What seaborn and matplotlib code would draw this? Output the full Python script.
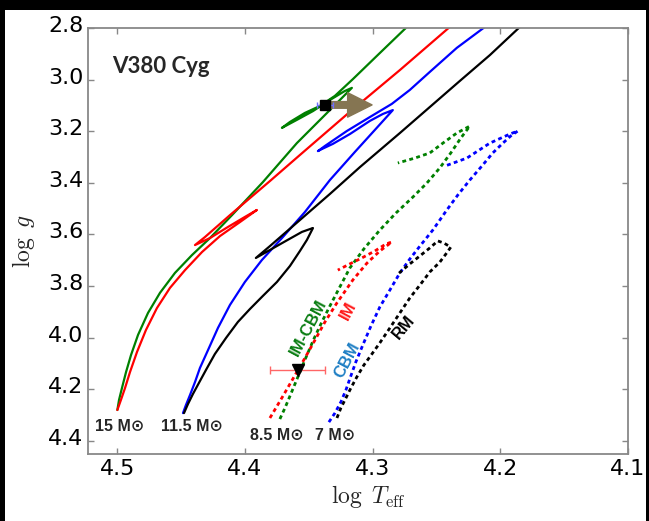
import matplotlib
matplotlib.use("Agg")
import matplotlib.pyplot as plt
import matplotlib.transforms as mtransforms
from matplotlib.patches import Rectangle, FancyArrowPatch
import seaborn as sns
import pandas as pd

# ---- evolutionary tracks: log Teff / log g --------------------------------
# 15 Msun, IM-CBM (solid green)
t15_imcbm = [4.500, 4.4987, 4.4964, 4.4932, 4.4893, 4.4838, 4.4760, 4.4666, 4.4549, 4.4416,
             4.4275, 4.4102, 4.3860, 4.3594, 4.3390, 4.3257, 4.3163,
             4.3218, 4.3335, 4.3468, 4.3594, 4.3711,
             4.3648, 4.3531, 4.3413, 4.3296, 4.3155, 4.2944, 4.2732, 4.2693]
g15_imcbm = [4.280, 4.241, 4.195, 4.133, 4.067, 3.989, 3.904, 3.826, 3.749, 3.680,
             3.614, 3.525, 3.397, 3.246, 3.145, 3.079, 3.032,
             3.044, 3.079, 3.122, 3.156, 3.187,
             3.164, 3.129, 3.102, 3.063, 2.998, 2.897, 2.796, 2.777]

# 15 Msun, IM (solid red)
t15_im = [4.500, 4.4972, 4.4940, 4.4901, 4.4846, 4.4776, 4.4690, 4.4588, 4.4470, 4.4337,
          4.4196, 4.4040, 4.3907,
          4.4001, 4.4134, 4.4275, 4.4392,
          4.4314, 4.4118, 4.3805, 4.3570, 4.3179, 4.2787, 4.2396, 4.2349]
g15_im = [4.280, 4.241, 4.195, 4.133, 4.055, 3.970, 3.885, 3.807, 3.738, 3.668,
          3.606, 3.552, 3.505,
          3.532, 3.571, 3.614, 3.641,
          3.610, 3.525, 3.393, 3.292, 3.125, 2.963, 2.796, 2.777]

# 11.5 Msun, CBM (solid blue)
t115_cbm = [4.4486, 4.4463, 4.4431, 4.4392, 4.4353, 4.4290, 4.4212, 4.4118, 4.4001, 4.3868,
            4.3711, 4.3531, 4.3335, 4.3139, 4.2983, 4.2842,
            4.2920, 4.3022, 4.3179, 4.3312, 4.3398, 4.3429,
            4.3374, 4.3202, 4.3022, 4.2850, 4.2709, 4.2552, 4.2341, 4.2121, 4.2082]
g115_cbm = [4.292, 4.261, 4.222, 4.172, 4.117, 4.048, 3.962, 3.873, 3.784, 3.699,
            3.614, 3.513, 3.389, 3.280, 3.195, 3.118,
            3.133, 3.160, 3.211, 3.249, 3.269, 3.277,
            3.257, 3.199, 3.145, 3.094, 3.040, 2.970, 2.877, 2.796, 2.781]

# 11.5 Msun, RM (solid black)
t115_rm = [4.4478, 4.4447, 4.4408, 4.4361, 4.4306, 4.4236, 4.4149, 4.4056, 4.3962, 4.3860,
           4.3750, 4.3648, 4.3570, 4.3515, 4.3476, 4.3468,
           4.3554, 4.3680, 4.3805, 4.3915,
           4.3805, 4.3570, 4.3335, 4.3100, 4.2787, 4.2552, 4.2317, 4.2082, 4.1847, 4.1808]
g115_rm = [4.292, 4.257, 4.218, 4.175, 4.125, 4.063, 4.001, 3.939, 3.889, 3.838,
           3.784, 3.722, 3.664, 3.621, 3.583, 3.575,
           3.590, 3.625, 3.660, 3.691,
           3.645, 3.544, 3.443, 3.339, 3.207, 3.106, 3.005, 2.905, 2.796, 2.781]

# 8.5 Msun, IM-CBM (dotted green)
t85_imcbm = [4.3727, 4.3687, 4.3648, 4.3586, 4.3531, 4.3461, 4.3398, 4.3335, 4.3257, 4.3179,
             4.3069, 4.2944, 4.2818, 4.2685, 4.2576, 4.2474, 4.2388, 4.2309, 4.2239,
             4.2341, 4.2450, 4.2552, 4.2670, 4.2803]
g85_imcbm = [4.315, 4.272, 4.226, 4.152, 4.086, 4.005, 3.939, 3.877, 3.803, 3.730,
             3.656, 3.583, 3.517, 3.455, 3.401, 3.342, 3.284, 3.226, 3.180,
             3.207, 3.246, 3.284, 3.304, 3.323]

# 8.5 Msun, IM (dotted red)
t85_im = [4.3805, 4.3758, 4.3703, 4.3648, 4.3594, 4.3531, 4.3461, 4.3374, 4.3280, 4.3155,
          4.3045, 4.2944, 4.2850,
          4.2897, 4.2983, 4.3085, 4.3179, 4.3273]
g85_im = [4.311, 4.272, 4.226, 4.179, 4.133, 4.079, 4.017, 3.939, 3.865, 3.776,
          3.711, 3.664, 3.629,
          3.637, 3.664, 3.691, 3.714, 3.738]

# 7 Msun, CBM (dotted blue)
t7_cbm = [4.3343, 4.3296, 4.3249, 4.3210, 4.3171, 4.3132, 4.3077, 4.3014, 4.2944, 4.2865,
          4.2787, 4.2709, 4.2630, 4.2529, 4.2419, 4.2333, 4.2239, 4.2145, 4.2059, 4.1980,
          4.1918, 4.1863,
          4.1926, 4.2082, 4.2262, 4.2435]
g7_cbm = [4.327, 4.292, 4.249, 4.203, 4.148, 4.094, 4.028, 3.955, 3.881, 3.815,
          3.749, 3.695, 3.645, 3.583, 3.505, 3.447, 3.389, 3.335, 3.284, 3.246,
          3.218, 3.199,
          3.211, 3.246, 3.304, 3.335]

# 7 Msun, RM (dotted black)
t7_rm = [4.3280, 4.3249, 4.3210, 4.3171, 4.3124, 4.3069, 4.3006, 4.2944, 4.2865, 4.2787,
         4.2709, 4.2630, 4.2552, 4.2474, 4.2427, 4.2388,
         4.2443, 4.2490, 4.2552, 4.2630, 4.2709, 4.2811]
g7_rm = [4.311, 4.272, 4.234, 4.195, 4.152, 4.106, 4.063, 4.020, 3.962, 3.904,
         3.846, 3.796, 3.745, 3.707, 3.676, 3.649,
         3.633, 3.625, 3.652, 3.683, 3.714, 3.757]

# ---- V380 Cyg components -----------------------------------------------------
primary_teff, primary_logg, primary_err = 4.3374, 3.098, 0.006
primary_shift_teff = 4.2983
secondary_teff, secondary_logg, secondary_err = 4.3586, 4.125, 0.0215

mass_labels = ["15 M\u2299", "11.5 M\u2299", "8.5 M\u2299", "7 M\u2299"]
mass_label_teff = [4.4979, 4.4416, 4.3750, 4.3296]
mass_label_logg = [4.345, 4.345, 4.380, 4.380]

model_names = ["IM-CBM", "IM", "CBM", "RM"]
model_colors = ["#0a7d12", "#ff1a1a", "#1f7fc4", "black"]
model_label_teff = [4.3500, 4.3194, 4.3202, 4.2756]
model_label_logg = [3.962, 3.896, 4.086, 3.958]
model_label_rot = [62, 62, 62, 50]

x_ticks = [4.5, 4.4, 4.3, 4.2, 4.1]
y_ticks = [2.8, 3.0, 3.2, 3.4, 3.6, 3.8, 4.0, 4.2, 4.4]

# ---- figure -------------------------------------------------------------------
sns.set_theme(style="white")
plt.rcParams["mathtext.fontset"] = "cm"
plt.rcParams["font.family"] = ["DejaVu Sans"]

fig = plt.figure(figsize=(6.49, 5.21), dpi=100, facecolor="black")
fig.patches.append(Rectangle((5 / 649, 0), 641 / 649, 511 / 521,
                             transform=fig.transFigure, facecolor="white",
                             edgecolor="none", zorder=-10))
ax = fig.add_axes([88 / 649, 1 - 454 / 521, 540 / 649, 426 / 521])
ax.set_facecolor("white")

solid = [(t15_imcbm, g15_imcbm, "green"), (t15_im, g15_im, "red"),
         (t115_cbm, g115_cbm, "blue"), (t115_rm, g115_rm, "black")]
dotted = [(t85_imcbm, g85_imcbm, "green"), (t85_im, g85_im, "red"),
          (t7_cbm, g7_cbm, "blue"), (t7_rm, g7_rm, "black")]

for t, g, c in solid:
    df = pd.DataFrame({"logTeff": t, "logg": g})
    sns.lineplot(data=df, x="logTeff", y="logg", sort=False, estimator=None,
                 color=c, linewidth=1.6, ax=ax)
for t, g, c in dotted:
    df = pd.DataFrame({"logTeff": t, "logg": g})
    sns.lineplot(data=df, x="logTeff", y="logg", sort=False, estimator=None,
                 color=c, linewidth=2.0, linestyle=(0, (1.4, 1.2)), ax=ax)

# shift of the primary
arrow = FancyArrowPatch((primary_teff, primary_logg), (primary_shift_teff, primary_logg),
                        arrowstyle="simple,head_length=1.1,head_width=1.1,tail_width=0.3",
                        mutation_scale=16, color="#857552", zorder=4)
ax.add_patch(arrow)
ax.errorbar([primary_teff], [primary_logg], xerr=[primary_err], fmt="s", color="black",
            ms=7, ecolor="#6f6fff", elinewidth=1, capsize=2, zorder=5)
ax.errorbar([secondary_teff], [secondary_logg], xerr=[secondary_err], fmt="v", color="black",
            ms=8, ecolor="#ff6666", elinewidth=1, capsize=3, zorder=5)

ax.text(4.5042, 2.951, "V380 Cyg", fontsize=16, fontweight="bold", ha="left", va="center",
        family=["Liberation Sans Narrow", "Lato"])

for lab, t, g in zip(mass_labels, mass_label_teff, mass_label_logg):
    ax.text(t, g, lab, fontsize=11.5, fontweight="bold", ha="center", va="center",
            family=["Liberation Sans", "DejaVu Sans"])

for lab, c, t, g, r in zip(model_names, model_colors, model_label_teff,
                           model_label_logg, model_label_rot):
    ax.text(t, g, lab, fontsize=12, fontweight="bold", color=c, rotation=r,
            ha="center", va="center", rotation_mode="anchor",
            family=["Liberation Sans", "DejaVu Sans"])

ax.set_xlim(4.523, 4.1)
ax.set_ylim(4.4505, 2.8)
ax.set_xticks(x_ticks)
ax.set_yticks(y_ticks)
ax.set_xticklabels([f"{v:.1f}" for v in x_ticks])
ax.set_yticklabels([f"{v:.1f}" for v in y_ticks])
ax.tick_params(direction="in", length=4, width=1, color="#888888", labelsize=16,
               labelcolor="black", top=True, right=True, bottom=True, left=True)
for s in ax.spines.values():
    s.set_color("#888888")
    s.set_linewidth(1.3)
    s.set_visible(True)

# y tick labels sit a little above their ticks
lift = mtransforms.ScaledTranslation(0, 4 / 100, fig.dpi_scale_trans)
for lbl in ax.get_yticklabels():
    lbl.set_transform(lbl.get_transform() + lift)

ax.set_xlabel(r"$\log\ T_{\rm eff}$", fontsize=17)
ax.xaxis.set_label_coords(0.52, -0.068)
ax.set_ylabel(r"$\log\ g$", fontsize=17, labelpad=8)

fig.savefig("out.png", dpi=100, facecolor=fig.get_facecolor())
